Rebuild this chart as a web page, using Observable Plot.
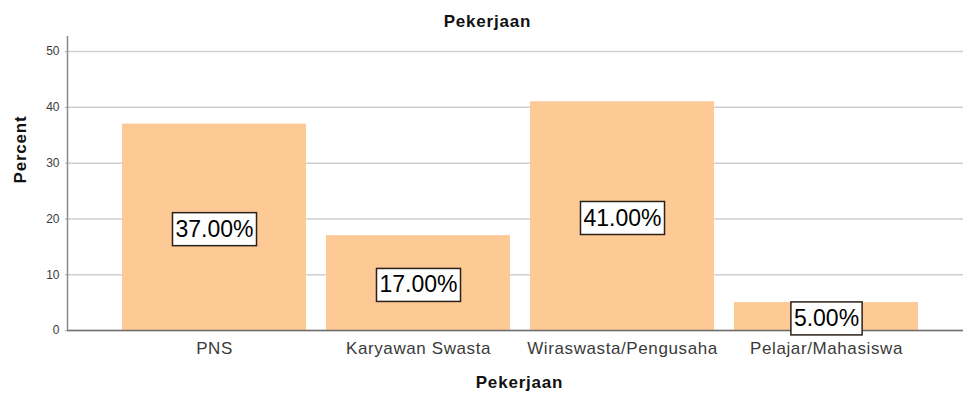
<!DOCTYPE html>
<html>
<head>
<meta charset="utf-8">
<script src="https://cdn.jsdelivr.net/npm/d3@7"></script>
<script src="https://cdn.jsdelivr.net/npm/@observablehq/plot@0.6"></script>
<style>
  body { margin: 0; background: #fff; font-family: "Liberation Sans", Arial, sans-serif; }
  #title { width: 975px; height: 36px; box-sizing: border-box; padding-top: 12px; line-height: 20px;
           text-align: center; font-weight: bold; font-size: 17px; letter-spacing: 0.8px; color: #111; }
  svg g[aria-label="x-axis tick label"] text { letter-spacing: 0.6px; }
  .axis-title text { letter-spacing: 0.8px; }
</style>
</head>
<body>
<div id="title">Pekerjaan</div>
<div id="chart"></div>
<script>
const categories = ["PNS", "Karyawan Swasta", "Wiraswasta/Pengusaha", "Pelajar/Mahasiswa"];
const percents = [37, 17, 41, 5];
const yTicks = [0, 10, 20, 30, 40, 50];

const data = categories.map((c, i) => ({cat: c, pct: percents[i]}));

const chart = Plot.plot({
  width: 963,
  height: 366,
  marginLeft: 67,
  marginRight: 0,
  marginTop: 0,
  marginBottom: 72,
  style: {fontFamily: "Liberation Sans, Arial, sans-serif", color: "#3a3a3a", background: "#fff"},
  x: {type: "band", domain: categories, padding: 0.1, insetLeft: 34.6, insetRight: 25},
  y: {domain: [0, 52.7]},
  marks: [
    Plot.gridY(yTicks, {stroke: "#cfcfcf", strokeOpacity: 1, strokeWidth: 1.5}),
    Plot.barY(data, {x: "cat", y: "pct", fill: "#FDC995"}),
    Plot.ruleY([0], {stroke: "#6e6e6e", strokeWidth: 1.5}),
    Plot.frame({anchor: "left", stroke: "#8a8a8a", strokeWidth: 1.5}),
    Plot.axisY(yTicks, {tickSize: 2, tickPadding: 6, fontSize: 12, label: null, stroke: "#aaa"}),
    Plot.axisX({tickSize: 0, tickPadding: 11, fontSize: 17, label: null}),
    Plot.text(data, {x: "cat", y: d => d.pct / 2, dy: 2, text: d => d.pct.toFixed(2) + "%",
      fontSize: 23, fill: "#000", className: "vlabel"}),
    Plot.text(["Percent"], {frameAnchor: "left", dx: -47, rotate: -90, fontSize: 17,
      fontWeight: "bold", fill: "#111", className: "axis-title"}),
    Plot.text(["Pekerjaan"], {frameAnchor: "bottom", dx: 4, dy: 57, fontSize: 17,
      fontWeight: "bold", fill: "#111", className: "axis-title"})
  ]
});

document.getElementById("chart").appendChild(chart);

// draw white boxes behind value labels, sized from the rendered text
d3.select(chart).selectAll("g.vlabel text").each(function () {
  const b = this.getBBox();
  const t = this.getAttribute("transform");
  d3.select(this.parentNode).insert("rect", () => this)
    .attr("x", b.x - 3).attr("y", b.y - 3)
    .attr("width", b.width + 6).attr("height", b.height + 7)
    .attr("transform", t)
    .attr("fill", "#fff").attr("stroke", "#2b2118").attr("stroke-width", 1.5);
});
</script>
</body>
</html>
